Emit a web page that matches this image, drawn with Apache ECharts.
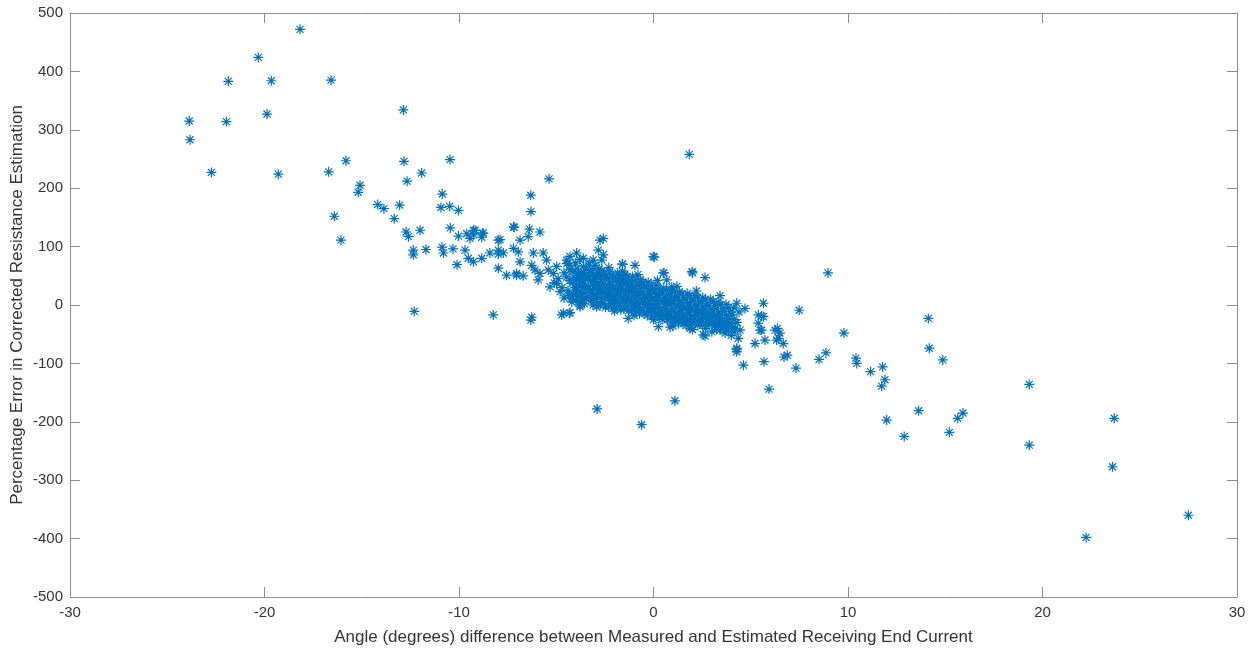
<!DOCTYPE html>
<html>
<head>
<meta charset="utf-8">
<script src="https://cdn.jsdelivr.net/npm/echarts@6/dist/echarts.min.js"></script>
<style>
  html, body { margin: 0; padding: 0; background: #fff; }
  #chart { width: 1256px; height: 650px; }
</style>
</head>
<body>
<div id="chart"></div>
<script>
// scattered points
const outliers = [
  [-18.17,472],[-20.32,424],[-21.86,383],[-19.65,384],[-16.58,385],[-23.87,315],[-21.96,314],[-19.87,327],
  [-12.86,334],[-23.83,283],[-22.73,227],[-19.29,224],[-16.7,228],[-15.81,247],[-12.83,246],[-11.92,226],
  [-12.67,212],[-15.09,205],[-15.18,193],[-10.86,190],[-10.46,249],[-10.93,167],[-10.48,169],[-10.03,162],
  [-14.18,172],[-13.86,165],[-13.05,171],[-13.33,148],[-16.41,152],[-16.07,111],[-12.72,125],[-12.6,117],
  [-12.0,128],[-12.35,94],[-12.35,86],[-11.7,95],[-10.87,99],[-10.8,89],[-10.45,132],[-10.31,96],[-10.1,69],
  [-10.03,118],[-9.6,122],[-9.43,114],[-9.26,128],[-8.8,123],[-8.83,116],[-9.69,94],[-9.52,80],[-9.26,74],
  [-8.83,80],[-8.41,89],[-7.98,87],[-7.98,111],[-7.98,63],[-12.3,-11],[-8.24,-17],
  [1.84,258],[-5.37,216],[-6.31,188],[-6.3,160],[-7.16,133],[-6.38,130],[-5.84,125],[-6.44,117],[-6.86,111],
  [-8.75,123],[-7.89,112],[-7.55,51],[-7.04,51],[-6.7,50],[-6.31,-26],[-4.72,-17],[-4.33,-14],[-2.75,111],
  [-2.58,114],[-0.01,83],[-1.6,70],[-0.95,68],[0.5,55],[1.98,57],[2.65,47],[3.42,16],
  [-9.17,128],[-9.26,120],[-7.98,94],[-7.72,89],[-7.2,97],[-6.95,91],[-6.86,74],[-6.18,89],[-5.67,89],
  [-5.5,77],[-6.26,68],[-6.09,60],[-5.84,54],[-7.04,54],[-5.93,43],[-5.41,60],[-5.15,54],[-4.98,66],
  [-4.46,71],[-4.29,83],[-3.95,89],[-3.61,80],[-4.46,48],[-4.98,37],[-5.32,31],[-4.8,23],[-4.29,17],
  [-3.78,0],[-6.26,-21],[-4.29,-13],[-7.2,134],
  [-2.84,94],[-2.58,86],[-2.66,77],[-4.46,77],[-4.29,68],[-3.1,77],[-1.59,70],[0.04,82],[0.54,55],[0.68,43],
  [0.94,31],[-4.63,-14],[-3.78,-3],[-1.3,-23],[0.25,-37],[0.85,-38],
  [2.01,55],[4.28,3],[4.7,-6],[5.65,3],[5.39,-17],[5.65,-20],[6.25,-43],[5.48,-43],[4.45,-43],[4.36,-57],
  [3.42,-43],[2.56,-51],[1.88,-40],[6.33,-60],[5.22,-66],[5.73,-60],[4.28,-74],
  [5.56,-19],[5.39,-31],[6.37,-40],[6.42,-57],[4.28,-76],[5.56,-43],[4.28,-80],[4.62,-103],[2.65,-53],
  [6.5,-48],[6.67,-66],[5.68,-97],[5.94,-144],[6.71,-89],[6.88,-86],[7.49,-9],[7.33,-108],[8.51,-93],
  [8.87,-82],[8.97,55],[9.79,-48],[10.41,-91],[10.45,-100],[11.16,-114],[11.78,-106],[11.9,-128],
  [11.73,-139],[11.99,-197],[12.89,-225],[14.13,-23],[14.18,-74],[14.87,-94],[13.63,-181],[15.64,-194],
  [15.91,-185],[15.21,-218],[19.32,-136],[19.32,-240],[23.69,-194],[23.6,-277],[22.24,-398],[27.5,-360],
  [-2.9,-178],[1.1,-164],[-0.61,-205],
  [-4.3,60],[-4.0,72],[-3.6,66],[-3.3,72],[-3.0,68],[-2.8,62],[-3.8,78],[-4.6,55],[-4.9,45],[-5.1,38],
  [-4.7,30],[-4.4,25],[-4.6,12],[-4.2,5]
];

// the dense core around zero
const core = [
  [-4.14,57],[-4.06,46],[-4.18,37],[-4.02,30],[-4.11,19],[-4.2,11],
  [-3.93,62],[-3.86,51],[-3.97,44],[-3.84,34],[-3.95,27],[-3.88,15],[-3.99,9],
  [-3.72,56],[-3.66,48],[-3.77,41],[-3.64,30],[-3.75,21],[-3.69,14],[-3.8,4],
  [-3.46,63],[-3.55,54],[-3.49,44],[-3.58,37],[-3.44,27],[-3.53,20],[-3.47,11],[-3.56,2],
  [-3.27,59],[-3.35,49],[-3.24,42],[-3.33,32],[-3.28,25],[-3.36,14],[-3.22,7],
  [-3.08,61],[-3.14,51],[-3.04,44],[-3.12,34],[-3.06,28],[-3.15,17],[-3.02,10],[-3.11,0],
  [-2.88,55],[-2.94,49],[-2.85,38],[-2.92,32],[-2.86,21],[-2.95,15],[-2.87,4],[-2.93,-3],
  [-2.66,59],[-2.73,49],[-2.68,43],[-2.75,32],[-2.64,26],[-2.72,15],[-2.67,9],[-2.74,-1],
  [-2.52,54],[-2.46,48],[-2.55,37],[-2.48,31],[-2.53,20],[-2.45,14],[-2.54,3],[-2.47,-4],
  [-2.27,57],[-2.34,47],[-2.25,41],[-2.32,30],[-2.28,24],[-2.35,14],[-2.24,7],[-2.31,-3],
  [-2.12,52],[-2.05,46],[-2.14,35],[-2.07,29],[-2.13,19],[-2.04,12],[-2.15,2],[-2.08,-6],
  [-1.86,55],[-1.94,45],[-1.88,39],[-1.95,28],[-1.85,22],[-1.92,11],[-1.87,5],[-1.93,-5],
  [-1.72,50],[-1.66,44],[-1.74,34],[-1.67,28],[-1.75,17],[-1.65,11],[-1.73,0],[-1.68,-8],
  [-1.47,53],[-1.54,43],[-1.46,37],[-1.53,26],[-1.45,20],[-1.55,9],[-1.48,3],[-1.52,-7],
  [-1.33,48],[-1.26,42],[-1.34,32],[-1.27,25],[-1.32,15],[-1.25,8],[-1.35,-2],[-1.28,-10],
  [-1.07,49],[-1.14,39],[-1.06,32],[-1.13,22],[-1.05,16],[-1.15,5],[-1.08,-1],[-1.12,-11],
  [-0.92,44],[-0.86,38],[-0.94,28],[-0.87,22],[-0.93,11],[-0.85,5],[-0.95,-5],[-0.88,-11],
  [-0.67,44],[-0.74,34],[-0.66,28],[-0.73,17],[-0.65,11],[-0.75,1],[-0.68,-5],[-0.72,-15],
  [-0.53,39],[-0.46,33],[-0.54,23],[-0.47,17],[-0.52,7],[-0.45,1],[-0.55,-9],[-0.48,-14],
  [-0.27,39],[-0.34,29],[-0.26,23],[-0.33,13],[-0.25,7],[-0.35,-3],[-0.28,-9],[-0.32,-18],
  [-0.12,34],[-0.06,28],[-0.14,18],[-0.07,12],[-0.13,2],[-0.05,-4],[-0.15,-13],[-0.08,-18],
  [0.13,34],[0.06,24],[0.14,18],[0.07,8],[0.15,2],[0.05,-8],[0.12,-13],[0.08,-22],
  [0.28,29],[0.34,23],[0.26,13],[0.33,7],[0.25,-3],[0.35,-8],[0.27,-17],[0.32,-21],
  [0.53,29],[0.46,19],[0.54,13],[0.47,3],[0.55,-3],[0.45,-12],[0.52,-17],[0.48,-25],
  [0.67,25],[0.74,19],[0.66,9],[0.73,3],[0.65,-7],[0.75,-12],[0.68,-21],[0.72,-25],
  [0.93,26],[0.86,16],[0.94,10],[0.87,0],[0.95,-6],[0.85,-15],[0.92,-20],[0.88,-29],
  [1.07,22],[1.14,16],[1.06,6],[1.13,0],[1.05,-10],[1.15,-15],[1.08,-24],[1.12,-29],
  [1.33,23],[1.26,13],[1.34,7],[1.27,-3],[1.35,-9],[1.25,-19],[1.32,-24],[1.28,-32],
  [1.47,19],[1.54,13],[1.46,3],[1.53,-3],[1.45,-13],[1.55,-18],[1.48,-27],[1.52,-32],
  [1.73,20],[1.66,10],[1.74,4],[1.67,-6],[1.75,-12],[1.65,-22],[1.72,-27],[1.68,-35],
  [1.87,16],[1.94,10],[1.86,0],[1.93,-6],[1.85,-16],[1.95,-21],[1.88,-30],[1.92,-35],
  [2.13,16],[2.06,6],[2.14,0],[2.07,-10],[2.15,-16],[2.05,-25],[2.12,-30],
  [2.27,13],[2.34,7],[2.26,-3],[2.33,-9],[2.25,-19],[2.35,-25],[2.28,-35],
  [2.53,13],[2.46,3],[2.54,-3],[2.47,-13],[2.55,-19],[2.45,-29],[2.52,-35],
  [2.67,9],[2.74,3],[2.66,-7],[2.73,-13],[2.65,-23],[2.75,-29],[2.68,-40],
  [2.93,10],[2.86,-1],[2.94,-7],[2.87,-18],[2.95,-24],[2.85,-34],
  [3.07,6],[3.14,-1],[3.06,-12],[3.13,-18],[3.05,-29],[3.15,-36],
  [3.33,5],[3.26,-6],[3.34,-12],[3.27,-23],[3.35,-30],[3.25,-42],
  [3.47,1],[3.54,-6],[3.46,-17],[3.53,-24],[3.45,-35],
  [3.73,1],[3.66,-11],[3.74,-18],[3.67,-29],[3.75,-37],[3.68,-48],
  [3.87,-4],[3.94,-12],[3.86,-23],[3.93,-31],[3.85,-43],
  [4.13,-5],[4.06,-17],[4.14,-25],[4.07,-37],[4.15,-46],
  [-3.0,40],[-2.8,26],[-2.6,52],[-2.4,18],[-2.2,34],[-2.0,8],[-1.8,24],[-1.6,40],[-1.4,14],[-1.2,30],
  [-1.0,0],[-0.8,18],[-0.6,35],[-0.4,2],[-0.2,20],[0.0,-6],[0.2,12],[0.4,-12],[0.6,6],[0.8,-18],
  [1.0,8],[1.2,-20],[1.4,-4],[1.6,-24],[1.8,-8],[2.0,-24],[2.2,-12],[2.4,-30],[2.6,-16],[2.8,-30],
  [3.0,-20],[3.2,-34],[3.4,-28],[3.6,-42],[3.8,-34],[4.0,-52],[4.3,-30],[4.4,-12],[4.2,-40],[-3.2,20],
  [-3.4,48],[-3.6,8],[-3.8,40],[-4.0,24],[-4.3,42],[-4.35,16],[-2.0,-10],[-1.0,-18],[0.0,-25],[1.0,-36],
  [2.0,-42],[3.0,-46],[-1.6,58],[-2.3,64],[-0.8,52],[0.2,42],[1.2,32],[2.2,24]
];

const xTitle = 'Angle (degrees) difference between Measured and Estimated Receiving End Current';
const yTitle = 'Percentage Error in Corrected Resistance Estimation';

const points = outliers.concat(core);

const star = 'path://M0,-5L0,5M-5,0L5,0M-3.5,-3.5L3.5,3.5M-3.5,3.5L3.5,-3.5';
const axisGrey = '#8c8c8c';
const txt = '#333';
const font = '"Liberation Sans", Arial, sans-serif';

const chart = echarts.init(document.getElementById('chart'), null, { renderer: 'canvas' });

// top and right axes only draw the box and the inner ticks
function frameAxis(pos, isX) {
  return {
    type: 'value', position: pos,
    min: isX ? -30 : -500, max: isX ? 30 : 500, interval: isX ? 10 : 100,
    axisLine: { show: true, onZero: false, lineStyle: { color: axisGrey, width: 1 } },
    axisTick: { show: true, inside: true, length: 10, lineStyle: { color: axisGrey } },
    axisLabel: { show: false },
    splitLine: { show: false }
  };
}

chart.setOption({
  animation: false,
  backgroundColor: '#fff',
  grid: { left: 70, right: 19, top: 13, bottom: 53, containLabel: false, outerBoundsMode: 'none' },
  xAxis: [
    {
      type: 'value', min: -30, max: 30, interval: 10, position: 'bottom',
      name: xTitle, nameLocation: 'middle', nameGap: 32, nameMoveOverlap: false,
      nameTextStyle: { color: txt, fontSize: 17, fontFamily: font },
      axisLine: { show: true, onZero: false, lineStyle: { color: axisGrey, width: 1 } },
      axisTick: { show: true, inside: true, length: 10, lineStyle: { color: axisGrey } },
      axisLabel: { color: txt, fontSize: 15, fontFamily: font, margin: 8 },
      splitLine: { show: false }
    },
    frameAxis('top', true)
  ],
  yAxis: [
    {
      type: 'value', min: -500, max: 500, interval: 100, position: 'left',
      name: yTitle, nameLocation: 'middle', nameGap: 44, nameMoveOverlap: false,
      nameTextStyle: { color: txt, fontSize: 17, fontFamily: font },
      axisLine: { show: true, onZero: false, lineStyle: { color: axisGrey, width: 1 } },
      axisTick: { show: true, inside: true, length: 10, lineStyle: { color: axisGrey } },
      axisLabel: { color: txt, fontSize: 15, fontFamily: font, margin: 7 },
      splitLine: { show: false }
    },
    frameAxis('right', false)
  ],
  series: [{
    type: 'scatter',
    data: points,
    symbol: star,
    symbolSize: 10,
    itemStyle: { color: 'rgba(0,0,0,0)', borderColor: '#0072BD', borderWidth: 1.2, opacity: 1 },
    emphasis: { disabled: true }
  }]
});
</script>
</body>
</html>
